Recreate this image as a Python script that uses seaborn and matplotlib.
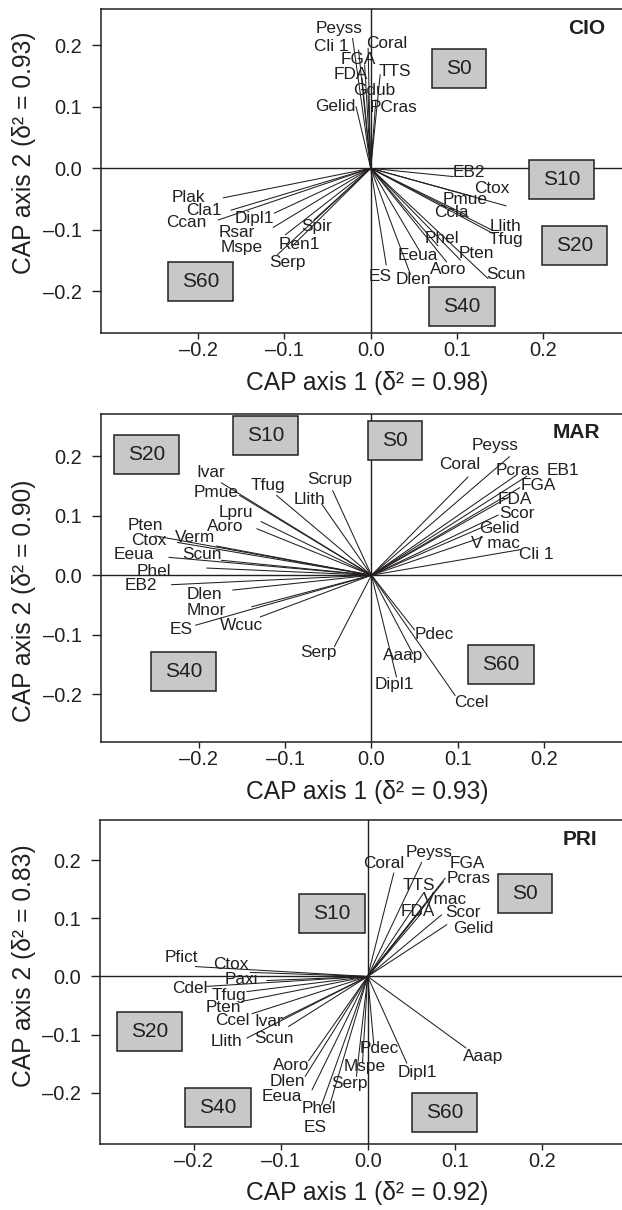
import numpy as np
import pandas as pd
import matplotlib
matplotlib.use("Agg")
import matplotlib.pyplot as plt
import seaborn as sns
from matplotlib.patches import Rectangle

# ---------------- CIO ----------------
CIO_SPECIES = ["Peyss", "Cli 1", "Coral", "FGA", "FDA", "TTS", "Gdub", "Gelid", "PCras",
               "EB2", "Ctox", "Pmue", "Ccla", "Llith", "Tfug", "Phel", "Pten", "Scun",
               "Eeua", "Aoro", "ES", "Dlen",
               "Plak", "Cla1", "Ccan", "Dipl1", "Rsar", "Mspe", "Spir", "Ren1", "Serp"]
CIO_X = [-0.021, -0.014, -0.003, -0.007, -0.010, 0.011, -0.003, -0.017, 0.006,
         0.096, 0.157, 0.119, 0.111, 0.140, 0.142, 0.078, 0.104, 0.136,
         0.057, 0.088, 0.018, 0.046,
         -0.171, -0.162, -0.177, -0.112, -0.113, -0.099, -0.066, -0.090, -0.108]
CIO_Y = [0.211, 0.192, 0.195, 0.168, 0.146, 0.152, 0.119, 0.100, 0.111,
         -0.0135, -0.061, -0.046, -0.076, -0.100, -0.106, -0.126, -0.149, -0.179,
         -0.135, -0.152, -0.157, -0.172,
         -0.048, -0.068, -0.084, -0.073, -0.096, -0.108, -0.084, -0.125, -0.140]
CIO_LX = [-0.037, -0.046, 0.019, -0.014, -0.023, 0.028, 0.004, -0.041, 0.026,
          0.114, 0.140, 0.109, 0.093, 0.156, 0.157, 0.083, 0.123, 0.157,
          0.055, 0.090, 0.011, 0.049,
          -0.211, -0.193, -0.214, -0.135, -0.155, -0.150, -0.063, -0.083, -0.097]
CIO_LY = [0.227, 0.198, 0.203, 0.176, 0.153, 0.157, 0.127, 0.100, 0.099,
          -0.007, -0.032, -0.051, -0.072, -0.094, -0.116, -0.114, -0.139, -0.173,
          -0.141, -0.164, -0.176, -0.180,
          -0.047, -0.068, -0.088, -0.081, -0.104, -0.128, -0.094, -0.123, -0.153]
CIO_SITES = ["S0", "S10", "S20", "S40", "S60"]
CIO_SX = [0.102, 0.221, 0.236, 0.106, -0.197]
CIO_SY = [0.162, -0.018, -0.126, -0.225, -0.183]

# ---------------- MAR ----------------
MAR_SPECIES = ["Peyss", "Coral", "Pcras", "EB1", "FGA", "FDA", "Scor", "Gelid", "V mac", "Cli 1",
               "Ivar", "Tfug", "Scrup", "Llith", "Pmue", "Lpru", "Aoro", "Pten", "Ctox", "Verm",
               "Eeua", "Scun", "Phel", "EB2", "Dlen", "Mnor", "ES", "Wcuc", "Serp",
               "Pdec", "Aaap", "Dipl1", "Ccel"]
MAR_X = [0.160, 0.112, 0.168, 0.180, 0.172, 0.160, 0.147, 0.139, 0.129, 0.173,
         -0.174, -0.110, -0.045, -0.058, -0.153, -0.128, -0.133, -0.251, -0.225, -0.180,
         -0.235, -0.174, -0.191, -0.232, -0.161, -0.139, -0.204, -0.129, -0.043,
         0.050, 0.048, 0.029, 0.097]
MAR_Y = [0.199, 0.165, 0.168, 0.166, 0.147, 0.132, 0.101, 0.087, 0.064, 0.043,
         0.155, 0.134, 0.142, 0.120, 0.134, 0.090, 0.078, 0.066, 0.055, 0.049,
         0.030, 0.025, 0.012, -0.016, -0.025, -0.053, -0.084, -0.070, -0.120,
         -0.092, -0.132, -0.171, -0.202]
MAR_LX = [0.143, 0.102, 0.170, 0.222, 0.194, 0.166, 0.169, 0.148, 0.144, 0.191,
          -0.186, -0.120, -0.048, -0.072, -0.180, -0.157, -0.169, -0.262, -0.258, -0.205,
          -0.276, -0.197, -0.252, -0.267, -0.194, -0.191, -0.221, -0.151, -0.062,
          0.073, 0.037, 0.026, 0.116]
MAR_LY = [0.218, 0.185, 0.176, 0.175, 0.150, 0.127, 0.104, 0.078, 0.054, 0.034,
          0.172, 0.151, 0.160, 0.127, 0.138, 0.106, 0.081, 0.084, 0.058, 0.063,
          0.034, 0.034, 0.007, -0.018, -0.032, -0.059, -0.091, -0.084, -0.130,
          -0.100, -0.134, -0.183, -0.213]
MAR_SITES = ["S20", "S10", "S0", "S40", "S60"]
MAR_SX = [-0.261, -0.123, 0.027, -0.218, 0.150]
MAR_SY = [0.202, 0.234, 0.226, -0.161, -0.150]

# ---------------- PRI ----------------
PRI_SPECIES = ["Coral", "Peyss", "FGA", "Pcras", "TTS", "Vmac", "FDA", "Scor", "Gelid",
               "Pfict", "Ctox", "Paxi", "Cdel", "Tfug", "Pten", "Ccel", "Ivar", "Llith", "Scun",
               "Aoro", "Dlen", "Eeua", "Phel", "ES", "Serp", "Mspe", "Pdec", "Dipl1", "Aaap"]
PRI_X = [0.030, 0.062, 0.089, 0.087, 0.064, 0.066, 0.062, 0.085, 0.091,
         -0.198, -0.135, -0.116, -0.185, -0.139, -0.145, -0.133, -0.099, -0.139, -0.091,
         -0.068, -0.072, -0.064, -0.053, -0.043, -0.013, -0.006, 0.007, 0.045, 0.113]
PRI_Y = [0.178, 0.196, 0.169, 0.163, 0.143, 0.123, 0.109, 0.106, 0.089,
         0.017, 0.007, -0.007, -0.017, -0.026, -0.043, -0.064, -0.073, -0.106, -0.086,
         -0.145, -0.172, -0.195, -0.221, -0.218, -0.172, -0.149, -0.117, -0.149, -0.123]
PRI_LX = [0.019, 0.070, 0.114, 0.116, 0.059, 0.089, 0.058, 0.110, 0.121,
          -0.214, -0.157, -0.145, -0.204, -0.160, -0.166, -0.156, -0.114, -0.162, -0.108,
          -0.088, -0.092, -0.099, -0.056, -0.061, -0.021, -0.003, 0.013, 0.057, 0.133]
PRI_LY = [0.195, 0.213, 0.195, 0.168, 0.156, 0.132, 0.111, 0.110, 0.082,
          0.033, 0.020, -0.006, -0.020, -0.032, -0.054, -0.076, -0.077, -0.112, -0.106,
          -0.153, -0.180, -0.207, -0.227, -0.259, -0.184, -0.155, -0.123, -0.165, -0.137]
PRI_SITES = ["S0", "S10", "S20", "S40", "S60"]
PRI_SX = [0.181, -0.041, -0.251, -0.172, 0.088]
PRI_SY = [0.143, 0.108, -0.095, -0.225, -0.234]

PANEL_TAGS = ["CIO", "MAR", "PRI"]
AXIS1_D2 = [0.98, 0.93, 0.92]
AXIS2_D2 = [0.93, 0.90, 0.83]
TICKS = [-0.2, -0.1, 0.0, 0.1, 0.2]

# ---------------- style ----------------
sns.set_theme(style="ticks")
plt.rcParams["font.family"] = ["Liberation Sans", "DejaVu Sans"]
INK = "#231f20"
BOX = "#c8c8c8"
W, H = 622, 1210
fig = plt.figure(figsize=(W / 100, H / 100), dpi=100)

# (left px, top px, width px, height px, xlim, ylim, xlabel y px, ylabel y px)
LAYOUT = [
    (101, 9, 540, 324, (-0.3127, 0.3134), (-0.2674, 0.2586), 383, 153),
    (101, 414, 540, 328, (-0.3136, 0.3125), (-0.2800, 0.2706), 792, 601),
    (100, 820, 540, 324, (-0.3077, 0.3130), (-0.2880, 0.2690), 1193, 966),
]

panels = [
    (CIO_SPECIES, CIO_X, CIO_Y, CIO_LX, CIO_LY, CIO_SITES, CIO_SX, CIO_SY),
    (MAR_SPECIES, MAR_X, MAR_Y, MAR_LX, MAR_LY, MAR_SITES, MAR_SX, MAR_SY),
    (PRI_SPECIES, PRI_X, PRI_Y, PRI_LX, PRI_LY, PRI_SITES, PRI_SX, PRI_SY),
]
TAG_POS = [(0.250, 0.227), (0.238, 0.239), (0.244, 0.235)]

renderer = fig.canvas.get_renderer()

for i, (sp, xs, ys, lxs, lys, sites, sxs, sys_) in enumerate(panels):
    left, top, wpx, hpx, xlim, ylim, xl_y, yl_y = LAYOUT[i]
    ax = fig.add_axes([left / W, 1 - (top + hpx) / H, wpx / W, hpx / H])
    ax.set_xlim(*xlim)
    ax.set_ylim(*ylim)

    ax.axhline(0, color=INK, lw=1.0, zorder=1)
    ax.axvline(0, color=INK, lw=1.0, zorder=1)

    rows = []
    for s, x, y in zip(sp, xs, ys):
        rows.append((s, 0.0, 0.0))
        rows.append((s, x, y))
    df = pd.DataFrame(rows, columns=["sp", "x", "y"])
    sns.lineplot(data=df, x="x", y="y", units="sp", estimator=None, sort=False,
                 color=INK, lw=0.75, ax=ax, legend=False, zorder=2)

    for s, lx, ly in zip(sp, lxs, lys):
        ax.text(lx, ly, s, ha="center", va="center", fontsize=12.4, color=INK, zorder=3)

    for s, sx, sy in zip(sites, sxs, sys_):
        t = ax.text(sx, sy, s, ha="center", va="center", fontsize=15, color=INK, zorder=6)
        bb = t.get_window_extent(renderer=renderer)
        cx, cy = ax.transData.transform((sx, sy))
        bw, bh = bb.width + 28, 39
        inv = ax.transData.inverted()
        x0, y0 = inv.transform((cx - bw / 2, cy - bh / 2))
        x1, y1 = inv.transform((cx + bw / 2, cy + bh / 2))
        ax.add_patch(Rectangle((x0, y0), x1 - x0, y1 - y0, facecolor=BOX,
                               edgecolor=INK, lw=1.1, zorder=5))

    tx, ty = TAG_POS[i]
    ax.text(tx, ty, PANEL_TAGS[i], ha="center", va="center", fontsize=15,
            fontweight="bold", color=INK, zorder=6)

    ax.set_xticks(TICKS)
    ax.set_yticks(TICKS)
    ax.set_xticklabels([f"{v:.1f}".replace("-", "\u2013") for v in TICKS])
    ax.set_yticklabels([f"{v:.1f}".replace("-", "\u2013") for v in TICKS])
    ax.tick_params(axis="x", length=4, width=1, pad=2, labelsize=14.4, colors=INK)
    ax.tick_params(axis="y", length=6.5, width=1, pad=7, labelsize=14.4, colors=INK)
    for side in ["top", "left", "bottom"]:
        ax.spines[side].set_color(INK)
        ax.spines[side].set_linewidth(1.1)
    ax.spines["right"].set_visible(False)

    ax.set_xlabel(f"CAP axis 1 (\u03b4\u00b2 = {AXIS1_D2[i]:.2f})", fontsize=17.7,
                  color=INK, va="center")
    ax.set_ylabel(f"CAP axis 2 (\u03b4\u00b2 = {AXIS2_D2[i]:.2f})", fontsize=17.7,
                  color=INK, va="center")
    ax.xaxis.set_label_coords((367 - left) / wpx, (top + hpx - xl_y) / hpx)
    ax.yaxis.set_label_coords((24 - left) / wpx, (top + hpx - yl_y) / hpx)

fig.savefig("out.png", dpi=100)
